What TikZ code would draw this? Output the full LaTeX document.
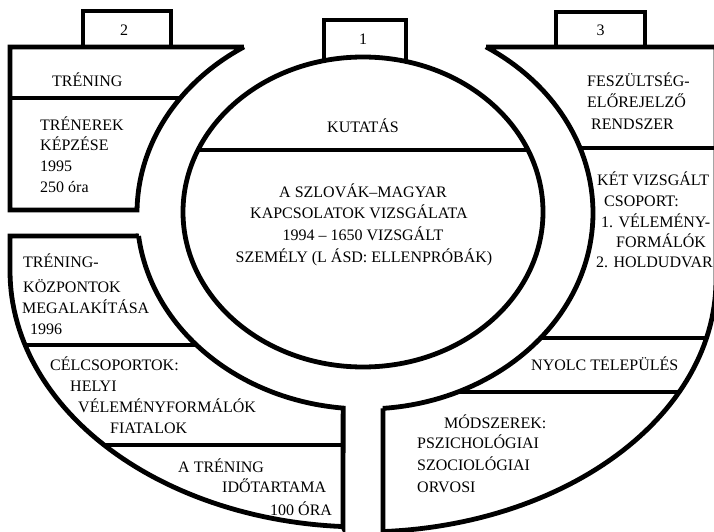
\documentclass[tikz,border=0pt]{standalone}
\usepackage{fontspec}
\setmainfont{Liberation Serif}
\begin{document}
\begin{tikzpicture}[x=1pt,y=-1pt,
  ln/.style={line width=4.8pt},
  lbl/.style={anchor=base west, inner sep=0pt, font=\fontsize{16}{19}\selectfont},
  clbl/.style={anchor=base, inner sep=0pt, font=\fontsize{16}{19}\selectfont}]
\useasboundingbox (0,0) rectangle (714,532);
\clip (0,0) rectangle (714,532);

% tabs
\draw[ln, fill=white] (83,47) -- (83,11) -- (171,11) -- (171,47);
\draw[ln, fill=white] (556,47) -- (556,12) -- (645,12) -- (645,47);
\draw[ln, fill=white] (324,70) -- (324,20) -- (406,20) -- (406,70);

% left top shape
\draw[ln] (10,47) -- (243.8,47) -- plot[domain=237.9:180.88,samples=50] ({365+228*cos(\x)},{213+196*sin(\x)}) -- (10,210) -- cycle;
\draw[ln] (10,98) -- (180.3,98);

% left lower shape
\draw[ln] (10,236) -- (138.6,236) -- plot[domain=173.26:95.5,samples=60] ({365+228*cos(\x)},{213+196*sin(\x)}) -- (343,526.6) -- plot[domain=93.25:180,samples=60] ({363+353*cos(\x)},{271+256*sin(\x)}) -- cycle;
\draw[ln] (25.1,345) -- (196.5,345);
\draw[ln] (104.1,445) -- (343,445);

% right shape
\draw[ln] (486.2,47) -- (716,47) -- (716,280) -- plot[domain=0:86.75,samples=60] ({363+353*cos(\x)},{280+252*sin(\x)}) -- (383,408.4) -- plot[domain=85.5:-57.9,samples=80] ({365+228*cos(\x)},{213+196*sin(\x)}) -- cycle;
\draw[ln] (580.1,148) -- (716,148);
\draw[ln] (540.6,338) -- (706.5,338);
\draw[ln] (457.9,392) -- (679.2,392);

% central ellipse
\draw[ln, fill=white] (363,212) ellipse [x radius=180, y radius=155];
\draw[ln] (198,150) -- (528,150);

% labels
\node[clbl] (n2) at (124,36) {2};
\node[clbl] (n1) at (363,45) {1};
\node[clbl] (n3) at (600.5,36) {3};

\node[lbl] (tr) at (52,87) {TRÉNING};
\node[lbl] (te1) at (40,130) {TRÉNEREK};
\node[lbl] (te2) at (40,150.5) {KÉPZÉSE};
\node[lbl] (te3) at (40,171.5) {1995};
\node[lbl] (te4) at (40,192.5) {250 óra};

\node[clbl] (ku) at (363,132) {KUTATÁS};
\node[clbl] (c1) at (363,197) {A SZLOVÁK–MAGYAR};
\node[clbl] (c2) at (359,218) {KAPCSOLATOK VIZSGÁLATA};
\node[clbl] (c3) at (363,240) {1994 – 1650 VIZSGÁLT};
\node[clbl] (c4) at (364,262) {SZEMÉLY (L ÁSD: ELLENPRÓBÁK)};

\node[lbl] (f1) at (587,87) {FESZÜLTSÉG-};
\node[lbl] (f2) at (587,108) {ELŐREJELZŐ};
\node[lbl] (f3) at (591,129) {RENDSZER};

\node[lbl] (k1) at (597,185) {KÉT VIZSGÁLT};
\node[lbl] (k2) at (604,206) {CSOPORT:};
\node[lbl] (k3) at (601,227) {1. VÉLEMÉNY-};
\node[lbl] (k4) at (616,247) {FORMÁLÓK};
\node[lbl] (k5) at (596,267) {2. HOLDUDVAR};

\node[lbl] (ny) at (531,370) {NYOLC TELEPÜLÉS};

\node[lbl] (m1) at (444,428) {MÓDSZEREK:};
\node[lbl] (m2) at (417,448) {PSZICHOLÓGIAI};
\node[lbl] (m3) at (417,470) {SZOCIOLÓGIAI};
\node[lbl] (m4) at (417,492) {ORVOSI};

\node[lbl] (tk1) at (23,267) {TRÉNING-};
\node[lbl] (tk2) at (23,292) {KÖZPONTOK};
\node[lbl] (tk3) at (22,313) {MEGALAKÍTÁSA};
\node[lbl] (tk4) at (30,334) {1996};

\node[lbl] (cc1) at (50,370) {CÉLCSOPORTOK:};
\node[lbl] (cc2) at (70,391) {HELYI};
\node[lbl] (cc3) at (78,412) {VÉLEMÉNYFORMÁLÓK};
\node[lbl] (cc4) at (110,433) {FIATALOK};

\node[lbl] (at1) at (178,472) {A TRÉNING};
\node[lbl] (at2) at (222,492) {IDŐTARTAMA};
\node[lbl] (at3) at (270,515) {100 ÓRA};
\end{tikzpicture}
\end{document}
